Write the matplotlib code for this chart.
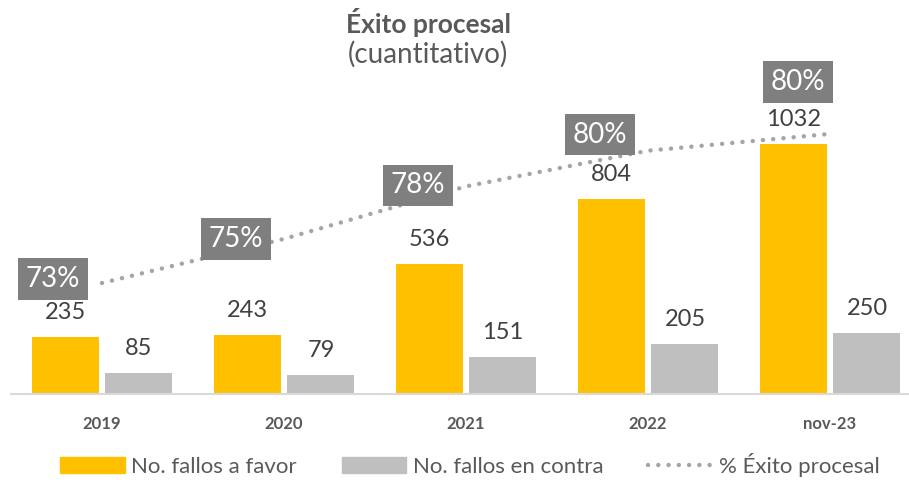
import matplotlib.pyplot as plt
from matplotlib.patches import Patch
from matplotlib.lines import Line2D

plt.rcParams['font.family'] = ['Lato', 'DejaVu Sans']

# datos
periodos = ['2019', '2020', '2021', '2022', 'nov-23']
a_favor = [235, 243, 536, 804, 1032]
en_contra = [85, 79, 151, 205, 250]
exito = [0.734, 0.755, 0.780, 0.797, 0.805]
exito_txt = ['73%', '75%', '78%', '80%', '80%']

amarillo = '#ffc000'
gris = '#bfbfbf'
gris_linea = '#a5a5a5'

# desplazamiento (px) de cada etiqueta de porcentaje respecto a su punto
desp = [(-49, 4), (-48, 0), (-48, 1), (-48, 16), (-32, 52)]

W, H = 909, 492
fig = plt.figure(figsize=(W / 100, H / 100), dpi=100)
ax = fig.add_axes([11 / W, (H - 394) / H, (909 - 11) / W, (394 - 80) / H])
ax2 = ax.twinx()

x = list(range(len(periodos)))
ancho = 0.368
off = 0.203
b1 = ax.bar([i - off for i in x], a_favor, ancho, color=amarillo, zorder=2)
b2 = ax.bar([i + off for i in x], en_contra, ancho, color=gris, zorder=2)

for rect, v in zip(b1, a_favor):
    ax.annotate(str(v), (rect.get_x() + rect.get_width() / 2, rect.get_height()),
                xytext=(0, 14), textcoords='offset pixels', ha='center', va='bottom',
                fontsize=17, color='#404040')
for rect, v in zip(b2, en_contra):
    ax.annotate(str(v), (rect.get_x() + rect.get_width() / 2, rect.get_height()),
                xytext=(0, 14), textcoords='offset pixels', ha='center', va='bottom',
                fontsize=17, color='#404040')

ax.set_xlim(-0.5, -0.5 + 898 / 182)
ax.set_ylim(0, (394 - 80) / 0.2422)
ax.set_xticks(x)
ax.set_xticklabels(periodos, fontsize=12, fontweight='bold', color='#595959')
ax.tick_params(axis='x', length=0, pad=16)
ax.set_yticks([])
for s in ['top', 'right', 'left']:
    ax.spines[s].set_visible(False)
    ax2.spines[s].set_visible(False)
ax.spines['bottom'].set_color('#d9d9d9')
ax.spines['bottom'].set_linewidth(1.5)
ax2.spines['bottom'].set_visible(False)

ax2.plot(x, exito, color=gris_linea, linewidth=3.2, linestyle=(0, (0.01, 2.3)),
         dash_capstyle='round', zorder=3)
ax2.set_ylim(0.734 - 111 / 2100, 0.734 + 203 / 2100)
ax2.set_yticks([])
for i, (p, t) in enumerate(zip(exito, exito_txt)):
    ax2.annotate(t, (i, p), xytext=desp[i], textcoords='offset pixels',
                 ha='center', va='center', fontsize=20, color='white',
                 bbox=dict(boxstyle='square,pad=0.28', fc='#7f7f7f', ec='none'))

fig.text(428 / W, 1 - 33 / H, 'Éxito procesal', ha='center', va='baseline',
         fontsize=19, fontweight='bold', color='#595959')
fig.text(428 / W, 1 - 63 / H, '(cuantitativo)', ha='center', va='baseline',
         fontsize=20, color='#595959')

handles = [Patch(color=amarillo), Patch(color=gris),
           Line2D([], [], color=gris_linea, linewidth=3.2, linestyle=(0, (0.01, 2.3)),
                  dash_capstyle='round')]
labels = ['No. fallos a favor', 'No. fallos en contra', '% Éxito procesal']
leg = fig.legend(handles, labels, loc='center', bbox_to_anchor=(470 / W, 1 - 465 / H),
                 ncol=3, frameon=False, fontsize=16, handlelength=2.9, handleheight=0.75,
                 handletextpad=0.3, columnspacing=2.0)
for t in leg.get_texts():
    t.set_color('#595959')

fig.savefig('out.png', dpi=100)
